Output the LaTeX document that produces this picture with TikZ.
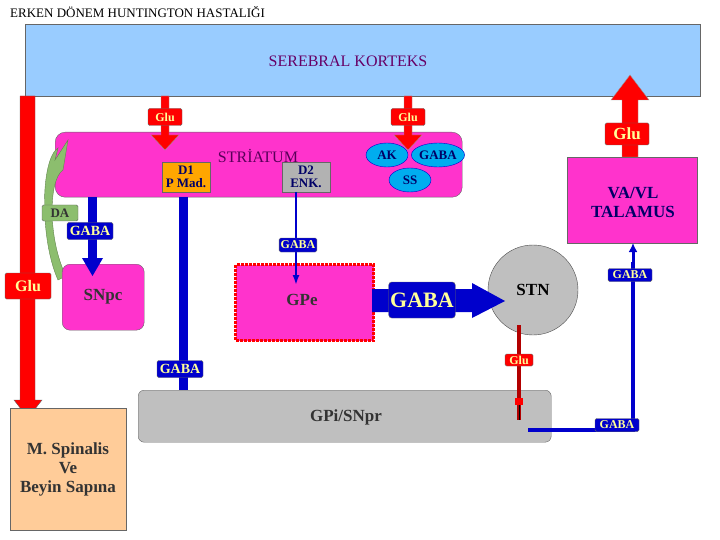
\documentclass[tikz,border=0pt]{standalone}
\usepackage{fontspec}
\setmainfont{Liberation Serif}[BoldFont={Liberation Serif Bold}]
\usetikzlibrary{arrows.meta,shapes.geometric}
\definecolor{sky}{RGB}{153,204,255}
\definecolor{mag}{RGB}{255,51,204}
\definecolor{navy}{RGB}{0,0,204}
\definecolor{tx}{RGB}{0,0,102}
\definecolor{grn}{RGB}{140,190,110}
\definecolor{tan}{RGB}{255,204,153}
\definecolor{ylw}{RGB}{255,255,153}
\tikzset{
 lab/.style={rounded corners=1.5pt,draw=black!60,font=\bfseries\fontsize{12}{12}\selectfont,inner sep=1.5pt,text=ylw},
 rlab/.style={lab,fill=red},
 blab/.style={lab,fill=navy},
 ell/.style={ellipse,draw=navy,fill=cyan,font=\bfseries\fontsize{13}{13}\selectfont,text=tx,inner sep=0pt,minimum width=42pt,minimum height=24pt},
 box/.style={draw=black!60,text=tx,align=center},
 big/.style={font=\bfseries\fontsize{17}{19}\selectfont},
}
\begin{document}
\begin{tikzpicture}[x=1pt,y=-1pt]
\useasboundingbox (0,0) rectangle (720,540);
\node[anchor=west,font=\fontsize{13}{13}\selectfont,inner sep=0pt] (title) at (10,12) {ERKEN DÖNEM HUNTINGTON HASTALIĞI};
% cortex
\node[box,fill=sky,minimum width=675pt,minimum height=72pt,anchor=north west] (ctx) at (25,24) {};
\node[text=violet!80!black,font=\fontsize{16}{16}\selectfont] (ctxt) at (348,61) {SEREBRAL KORTEKS};
% left red arrow
\fill[red,draw=black!60] (20,96) -- (35,96) -- (35,400) -- (42,400) -- (28,418) -- (14,400) -- (20,400) -- cycle;
\node[rlab,font=\bfseries\fontsize{16}{16}\selectfont,minimum width=46pt,minimum height=26pt] (gl1) at (28,286) {Glu};
% striatum
\node[box,fill=mag,rounded corners=10pt,minimum width=407pt,minimum height=65pt,anchor=north west] (str) at (55,132) {};
\node[text=violet!70!black,font=\fontsize{16}{16}\selectfont] (strt) at (258,156) {STRİATUM};
\node[box,fill=orange!70!yellow,font=\bfseries\fontsize{13}{13}\selectfont,inner sep=1pt,minimum width=48pt,minimum height=30pt] (d1) at (186,177) {D1\\P Mad.};
\node[box,fill=gray!60,font=\bfseries\fontsize{13}{13}\selectfont,inner sep=1pt,minimum width=48pt,minimum height=30pt] (d2) at (306,177) {D2\\ENK.};
\node[ell] (ak) at (387,155) {AK};
\node[ell] (gb) at (438,155) {GABA};
\node[ell] (ss) at (410,180) {SS};
% glu from cortex
\foreach \x/\n in {165/a,408/b}{
 \fill[red,draw=black!40] (\x-4,96) -- (\x+4,96) -- (\x+4,135) -- (\x+14,135) -- (\x,150) -- (\x-14,135) -- (\x-4,135) -- cycle;
 \node[rlab,minimum width=34pt,minimum height=17pt] (glu\n) at (\x,117) {Glu};
}
% VA/VL
\node[box,fill=mag,minimum width=130pt,minimum height=86pt,anchor=north west] (va) at (567,157) {};
\node[big,text=tx,align=center] (vat) at (633,202) {VA/VL\\TALAMUS};
\fill[red,draw=black!40] (622,157) -- (622,100) -- (611,100) -- (630,75) -- (649,100) -- (638,100) -- (638,157) -- cycle;
\node[rlab,font=\bfseries\fontsize{17}{17}\selectfont,minimum width=44pt,minimum height=22pt] (glu3) at (627,134) {Glu};
% DA green arrow
\draw[grn!70!black,fill=grn] (58,280) .. controls (40,240) and (40,160) .. (58,148) -- (55,160) -- (68,140) -- (63,170) .. controls (48,180) and (48,240) .. (66,276) -- cycle;
\node[lab,fill=grn,text=black!80,font=\bfseries\fontsize{13}{13}\selectfont,minimum width=36pt,minimum height=16pt] (da) at (60,213) {DA};
% SNpc
\node[box,fill=mag,rounded corners=8pt,minimum width=82pt,minimum height=66pt,anchor=north west] (snpc) at (62,264) {};
\node[big,text=black!80] (snt) at (103,297) {SNpc};
\fill[navy] (88,197) rectangle (97,260);
\fill[navy] (82,258) -- (103,258) -- (92.5,276) -- cycle;
\node[blab,font=\bfseries\fontsize{14}{14}\selectfont,minimum width=46pt,minimum height=17pt] (gb1) at (90,231) {GABA};
% long blue to GPi
\fill[navy] (179,197) rectangle (188,395);
\fill[navy] (173,393) -- (194,393) -- (183.5,411) -- cycle;
\node[blab,font=\bfseries\fontsize{14}{14}\selectfont,minimum width=46pt,minimum height=17pt] (gb2) at (180,369) {GABA};
% GPe
\node[draw=red,densely dotted,line width=3pt,fill=mag,minimum width=138pt,minimum height=76pt,anchor=north west] (gpe) at (234,263) {};
\node[big,text=black!80] (gpet) at (302,300) {GPe};
\draw[navy,line width=1.8pt,-{Latex[length=10pt,width=7pt]}] (296,192) -- (296,285);
\node[blab,minimum width=36pt,minimum height=14pt] (gb3) at (298,245) {GABA};
% STN
\node[circle,draw=black!70,fill=gray!50,minimum size=90pt,big,text=black] (stn) at (533,290) {STN};
\fill[navy] (372,289) -- (472,289) -- (472,283) -- (505,301) -- (472,318) -- (472,312) -- (372,312) -- cycle;
\node[blab,font=\bfseries\fontsize{22}{22}\selectfont,minimum width=54pt,minimum height=36pt,rounded corners=3pt] (gb4) at (422,300) {GABA};
% GPi
\node[box,fill=gray!50,rounded corners=6pt,minimum width=413pt,minimum height=52pt,anchor=north west] (gpi) at (138,390) {};
\node[big,text=black!80] (gpit) at (346,417) {GPi/SNpr};
\fill[red!70!black] (517,325) rectangle (521,420);
\fill[red] (515,398) rectangle (523,405);
\draw[black] (519,405) -- (519,420);
\node[rlab,minimum width=28pt,minimum height=12pt] (glu4) at (519,360) {Glu};
% GPi -> VA/VL
\draw[navy,line width=4pt] (528,430) -- (633,430) -- (633,262);
\draw[navy,line width=3pt,-{Latex[length=9pt,width=9pt]}] (633,270) -- (633,243);
\node[blab,minimum width=44pt,minimum height=13pt] (gb5) at (617,425) {GABA};
\node[blab,minimum width=44pt,minimum height=13pt] (gb6) at (630,275) {GABA};
% M Spinalis
\node[box,fill=tan,minimum width=116pt,minimum height=122pt,anchor=north west] (ms) at (10,408) {};
\node[big,text=black!80,align=center] (mst) at (68,469) {M. Spinalis\\Ve\\Beyin Sapına};
\end{tikzpicture}
\end{document}
